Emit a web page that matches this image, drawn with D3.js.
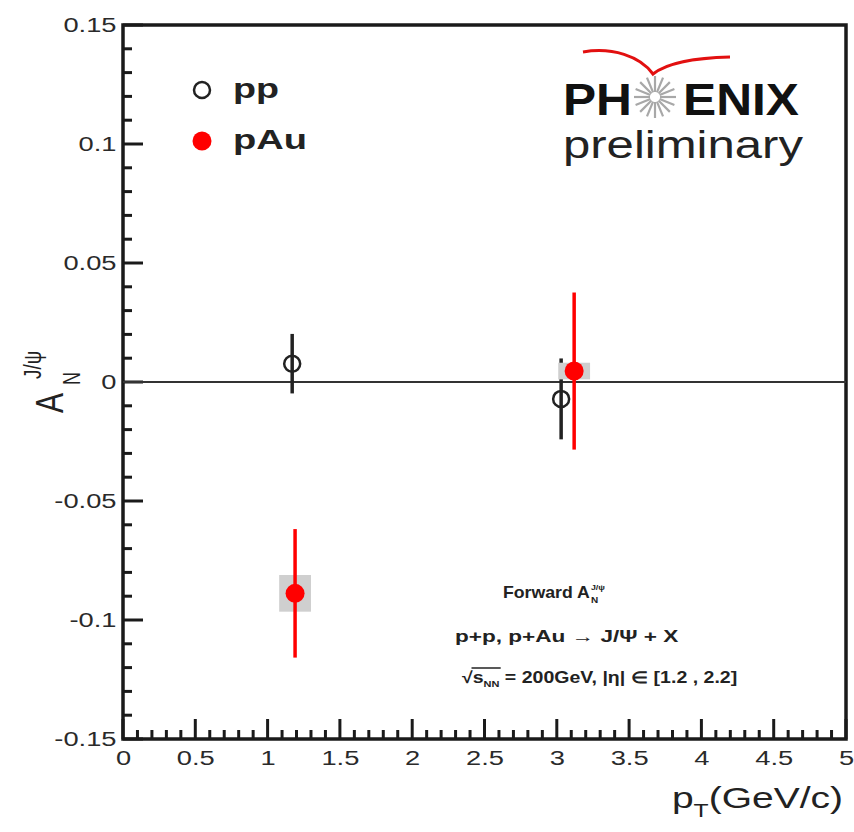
<!DOCTYPE html>
<html>
<head>
<meta charset="utf-8">
<script src="https://cdn.jsdelivr.net/npm/d3@7/dist/d3.min.js"></script>
<style>
  body { margin: 0; background: #fff; }
  text { font-family: "Liberation Sans", Arial, Helvetica, sans-serif; fill: #222; }
</style>
</head>
<body>
<svg id="chart" width="854" height="832"></svg>
<script>
// data
const ppX = [1.17, 3.03]
const ppY = [0.0077, -0.0071]
const ppStat = [0.0125, 0.017]
const ppSys = [0, 0]

const pAuX = [1.19, 3.12]
const pAuY = [-0.0888, 0.0046]
const pAuStat = [0.027, 0.033]
const pAuSys = [0.0077, 0.0035]
const sysHalfWidth = 0.11

const xMajor = [0, 0.5, 1, 1.5, 2, 2.5, 3, 3.5, 4, 4.5, 5]
const xLabels = ["0", "0.5", "1", "1.5", "2", "2.5", "3", "3.5", "4", "4.5", "5"]
const yMajor = [-0.15, -0.1, -0.05, 0, 0.05, 0.1, 0.15]
const yLabels = ["-0.15", "-0.1", "-0.05", "0", "0.05", "0.1", "0.15"]
const legendNames = ["pp", "pAu"]

const SX = 1.3 // the picture is stretched sideways
const svg = d3.select("#chart")

const x = d3.scaleLinear().domain([0, 5]).range([123, 846])
const y = d3.scaleLinear().domain([-0.15, 0.15]).range([739, 25])

const xMinor = d3.range(0, 51).filter(i => i % 5 !== 0).map(i => i / 10)
const yMinor = d3.range(-15, 16).filter(i => i % 5 !== 0).map(i => i / 100)

// put a text in a group that is scaled to a given width
function fit(g, target) {
  const w = g.node().getBBox().width
  const t = g.attr("transform")
  g.attr("transform", `${t} scale(${target / w},1)`)
}

function styleAxis(g) {
  g.select(".domain").remove()
  g.selectAll(".tick line").remove()
  g.selectAll(".tick text")
    .style("font-size", "21px")
    .style("fill", "#2a2a2a")
    .attr("transform", `scale(${SX},1)`)
}

// tick labels
svg.append("g").attr("transform", "translate(0,739)")
  .call(d3.axisBottom(x).tickValues(xMajor).tickSize(0).tickPadding(11)
    .tickFormat((d, i) => xLabels[i]))
  .call(styleAxis)
svg.append("g").attr("transform", "translate(123,0)")
  .call(d3.axisLeft(y).tickValues(yMajor).tickSize(0).tickPadding(5)
    .tickFormat((d, i) => yLabels[i]))
  .call(styleAxis)

// tick marks, pointing inwards
const ticks = svg.append("g").attr("stroke", "#1a1a1a").attr("stroke-width", 3)
const xTicks = xMajor.map(v => ({ v, len: 20 })).concat(xMinor.map(v => ({ v, len: 9 })))
const yTicks = yMajor.map(v => ({ v, len: 20 })).concat(yMinor.map(v => ({ v, len: 9 })))
ticks.selectAll("line.xt").data(xTicks).join("line").attr("class", "xt")
  .attr("x1", d => x(d.v)).attr("x2", d => x(d.v))
  .attr("y1", y(-0.15)).attr("y2", d => y(-0.15) - d.len)
ticks.selectAll("line.yt").data(yTicks).join("line").attr("class", "yt")
  .attr("x1", x(0)).attr("x2", d => x(0) + d.len)
  .attr("y1", d => y(d.v)).attr("y2", d => y(d.v))

// frame
svg.append("rect")
  .attr("x", x(0)).attr("y", y(0.15))
  .attr("width", x(5) - x(0)).attr("height", y(-0.15) - y(0.15))
  .attr("fill", "none").attr("stroke", "#1a1a1a").attr("stroke-width", 3.5)

// zero line
svg.append("line")
  .attr("x1", x(0)).attr("x2", x(5)).attr("y1", y(0)).attr("y2", y(0))
  .attr("stroke", "#333").attr("stroke-width", 2)

function drawSeries(xs, ys, stat, sys, color, filled) {
  const pts = xs.map((v, i) => ({ x: v, y: ys[i], e: stat[i], s: sys[i] }))
  const g = svg.append("g")
  g.selectAll("rect.sys").data(pts.filter(d => d.s > 0)).join("rect")
    .attr("x", d => x(d.x - sysHalfWidth))
    .attr("width", d => x(d.x + sysHalfWidth) - x(d.x - sysHalfWidth))
    .attr("y", d => y(d.y + d.s))
    .attr("height", d => y(d.y - d.s) - y(d.y + d.s))
    .attr("fill", "#cfcfcf")
  g.selectAll("line.err").data(pts).join("line")
    .attr("x1", d => x(d.x)).attr("x2", d => x(d.x))
    .attr("y1", d => y(d.y + d.e)).attr("y2", d => y(d.y - d.e))
    .attr("stroke", color).attr("stroke-width", 3.5)
  g.selectAll("circle").data(pts).join("circle")
    .attr("cx", d => x(d.x)).attr("cy", d => y(d.y))
    .attr("r", filled ? 9.5 : 8)
    .attr("fill", filled ? color : "none")
    .attr("stroke", filled ? "none" : color)
    .attr("stroke-width", 2.5)
}

drawSeries(ppX, ppY, ppStat, ppSys, "#222", false)
drawSeries(pAuX, pAuY, pAuStat, pAuSys, "#ff0000", true)

// legend
const legend = svg.append("g")
legend.append("circle").attr("cx", 202).attr("cy", 90).attr("r", 8)
  .attr("fill", "none").attr("stroke", "#222").attr("stroke-width", 2.5)
legend.append("circle").attr("cx", 202).attr("cy", 141).attr("r", 9.5)
  .attr("fill", "#ff0000")
legendNames.forEach((name, i) => {
  const g = legend.append("g").attr("transform", `translate(233,${98 + i * 51})`)
  g.append("text").text(name).style("font-size", "28px").style("font-weight", 700)
  fit(g, i === 0 ? 46 : 74)
})

// PHENIX preliminary logo
const logo = svg.append("g")
logo.append("path")
  .attr("d", "M583,52 C612,47 640,56 653,74 C668,62 695,58 730,57")
  .attr("fill", "none").attr("stroke", "#e21010").attr("stroke-width", 3)
const star = logo.append("g").attr("transform", "translate(655,97)")
star.selectAll("line").data(d3.range(16)).join("line")
  .attr("x1", d => 5 * Math.cos(d * Math.PI / 8))
  .attr("y1", d => 5 * Math.sin(d * Math.PI / 8))
  .attr("x2", d => 21 * Math.cos(d * Math.PI / 8))
  .attr("y2", d => 21 * Math.sin(d * Math.PI / 8))
  .attr("stroke", "#a8a8a8").attr("stroke-width", 2.2)
const ph = logo.append("g").attr("transform", "translate(563,115)")
ph.append("text").text("PH").style("font-size", "44px").style("font-weight", 700).style("fill", "#111")
fit(ph, 69)
const enix = logo.append("g").attr("transform", "translate(683,115)")
enix.append("text").text("ENIX").style("font-size", "44px").style("font-weight", 700).style("fill", "#111")
fit(enix, 116)
const prelim = logo.append("g").attr("transform", "translate(563,158)")
prelim.append("text").text("preliminary").style("font-size", "38px").style("fill", "#222")
fit(prelim, 240)

// annotation box
const ann = svg.append("g").style("font-weight", 700)
const l1 = ann.append("g").attr("transform", "translate(503,598)")
const t1 = l1.append("text").text("Forward A").style("font-size", "16px")
const w1 = t1.node().getComputedTextLength()
l1.append("text").attr("x", w1 + 1).attr("y", 5).text("N").style("font-size", "9px")
l1.append("text").attr("x", w1 + 1).attr("y", -8).text("J/ψ").style("font-size", "8px")
fit(l1, 102)

const l2 = ann.append("g").attr("transform", "translate(455,642)")
l2.append("text").text("p+p, p+Au → J/Ψ + X").style("font-size", "16px")
fit(l2, 224)

const l3 = ann.append("g").attr("transform", "translate(462,683)")
const t3 = l3.append("text").style("font-size", "16px")
t3.append("tspan").text("√s")
t3.append("tspan").text("NN").style("font-size", "9px").attr("dy", 4)
t3.append("tspan").text(" = 200GeV, |η| ∈ [1.2 , 2.2]").attr("dy", -4)
const ox0 = t3.node().getStartPositionOfChar(1).x
const ox1 = t3.node().getEndPositionOfChar(3).x
l3.append("line").attr("x1", ox0 - 1).attr("x2", ox1 + 1).attr("y1", -15).attr("y2", -15)
  .attr("stroke", "#222").attr("stroke-width", 1.5)
fit(l3, 275)

// axis titles
const xt = svg.append("g").attr("transform", `translate(843,808) scale(${SX},1)`)
const xtt = xt.append("text").attr("text-anchor", "end").style("font-size", "30px")
xtt.append("tspan").text("p")
xtt.append("tspan").text("T").style("font-size", "19px").attr("dy", 9)
xtt.append("tspan").text("(GeV/c)").attr("dy", -9)

const yt = svg.append("g").attr("transform", `translate(63,413) rotate(-90) scale(1,${SX})`)
yt.append("text").text("A").style("font-size", "30px")
yt.append("text").attr("x", 28).attr("y", 13).text("N").style("font-size", "18px")
yt.append("text").attr("x", 34).attr("y", -17).text("J/ψ").style("font-size", "19px")
</script>
</body>
</html>
